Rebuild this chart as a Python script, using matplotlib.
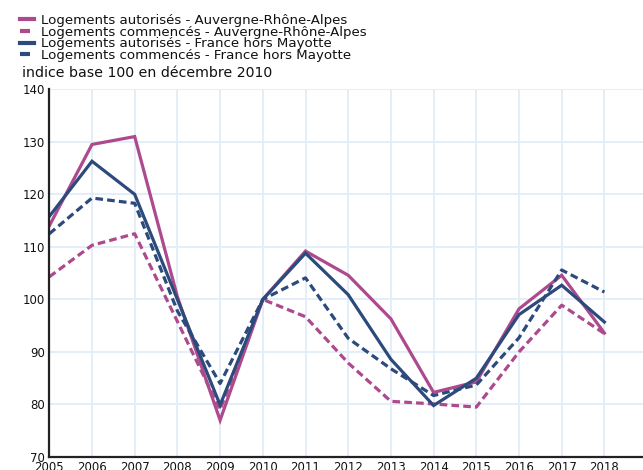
import matplotlib
matplotlib.use("Agg")
import matplotlib.pyplot as plt

years = [2005, 2006, 2007, 2008, 2009, 2010, 2011, 2012, 2013, 2014, 2015, 2016, 2017, 2018]
aura_autorises = [114.0, 129.5, 131.0, 100.5, 77.0, 100.0, 109.2, 104.6, 96.3, 82.3, 84.3, 98.2, 104.6, 93.6]
aura_commences = [104.3, 110.3, 112.5, 95.8, 79.0, 100.0, 96.7, 87.9, 80.6, 80.1, 79.5, 90.0, 98.9, 93.5]
fr_autorises = [115.8, 126.3, 120.0, 100.0, 79.9, 100.0, 108.8, 100.9, 88.6, 79.8, 85.0, 97.1, 102.7, 95.7]
fr_commences = [112.5, 119.3, 118.3, 97.8, 84.0, 100.0, 104.1, 92.6, 86.8, 81.7, 83.7, 92.7, 105.6, 101.4]

labels = [
    "Logements autorisés - Auvergne-Rhône-Alpes",
    "Logements commencés - Auvergne-Rhône-Alpes",
    "Logements autorisés - France hors Mayotte",
    "Logements commencés - France hors Mayotte",
]
y_ticks = [70, 80, 90, 100, 110, 120, 130, 140]
y_label = "indice base 100 en décembre 2010"

PINK = "#ad4a8e"
BLUE = "#2c4a7b"
GRID = "#e2edf8"

plt.rcParams['font.family'] = ['DejaVu Sans']

fig = plt.figure(figsize=(6.43, 4.70), dpi=100)
ax = fig.add_axes([49.3 / 643, 13 / 470, 1 - 49.3 / 643, (457 - 89.3) / 470])

lw = 2.3
dash = (0, (2.4, 1.3))
l1, = ax.plot(years, aura_autorises, color=PINK, lw=lw, solid_joinstyle='miter')
l2, = ax.plot(years, aura_commences, color=PINK, lw=lw, linestyle=dash)
l3, = ax.plot(years, fr_autorises, color=BLUE, lw=lw, solid_joinstyle='miter')
l4, = ax.plot(years, fr_commences, color=BLUE, lw=lw, linestyle=dash)

ax.set_xlim(2005, 2005 + (643 - 49.3) / 42.7)
ax.set_ylim(70, 140)
ax.set_xticks(years)
ax.set_xticklabels([str(y) for y in years])
ax.set_yticks(y_ticks)
ax.tick_params(axis='both', length=0, labelsize=8.5, colors='#111111')
ax.tick_params(axis='y', pad=3)
ax.tick_params(axis='x', pad=3)
ax.grid(True, color=GRID, lw=1.3)
ax.set_axisbelow(True)
for s in ['top', 'right']:
    ax.spines[s].set_visible(False)
for s in ['left', 'bottom']:
    ax.spines[s].set_color('#222222')
    ax.spines[s].set_linewidth(1.6)

fig.text(22 / 643, 1 - 73 / 470, y_label, fontsize=10.2, va='center', ha='left', color='#111111')

leg = fig.legend([l1, l2, l3, l4], labels, loc='upper left',
                 bbox_to_anchor=(20 / 643, 1 - 14 / 470), frameon=False,
                 fontsize=9.6, handlelength=1.05, handletextpad=0.55,
                 labelspacing=-0.1, borderpad=0, borderaxespad=0)
for t in leg.get_texts():
    t.set_color('#111111')
for h in leg.legend_handles:
    h.set_linewidth(3)

fig.savefig("out.png", dpi=100)
